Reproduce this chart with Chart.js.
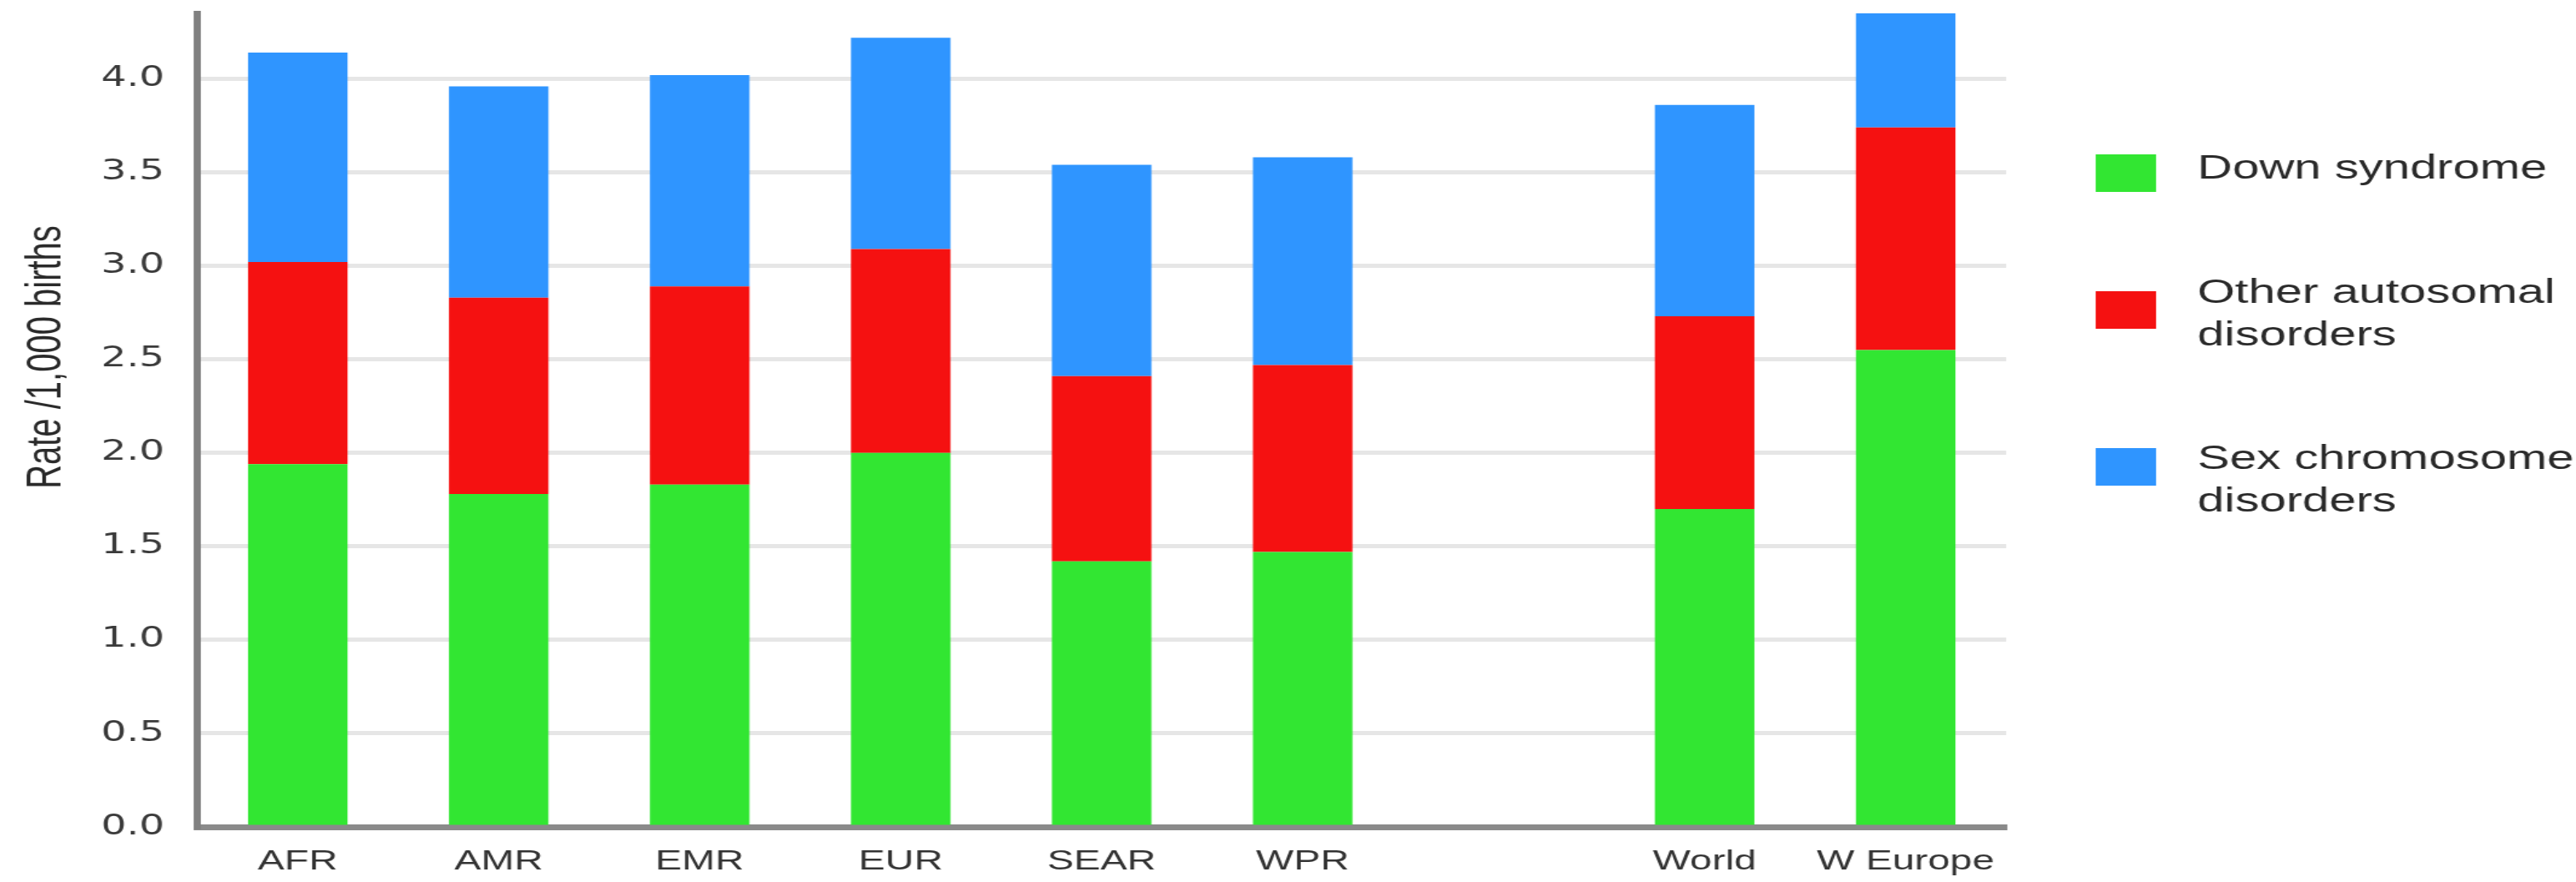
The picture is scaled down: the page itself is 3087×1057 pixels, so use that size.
<!DOCTYPE html>
<html>
<head>
<meta charset="utf-8">
<script src="https://cdn.jsdelivr.net/npm/chart.js@4"></script>
<style>
  html, body { margin: 0; padding: 0; background: #ffffff; overflow: hidden; }
  #c { display: block; width: 3087px !important; height: 1057px !important; }
</style>
</head>
<body>
<canvas id="c" width="2129" height="1057" style="width:3087px;height:1057px;"></canvas>
<script>
// ---- data ----
const categories = ['AFR', 'AMR', 'EMR', 'EUR', 'SEAR', 'WPR', '', 'World', 'W Europe'];
const downSyndrome   = [1.94, 1.78, 1.83, 2.00, 1.42, 1.47, null, 1.70, 2.55];
const otherAutosomal = [1.08, 1.05, 1.06, 1.09, 0.99, 1.00, null, 1.03, 1.19];
const sexChromosome  = [1.12, 1.13, 1.13, 1.13, 1.13, 1.11, null, 1.13, 1.13];
const seriesNames = ['Down syndrome', 'Other autosomal disorders', 'Sex chromosome disorders'];
const legendLines = [['Down syndrome'], ['Other autosomal', 'disorders'], ['Sex chromosome', 'disorders']];
const yAxisTitle = 'Rate /1,000 births';
const yMin = 0, yMax = 4.35, yStep = 0.5;

const colors = ['#32e632', '#f51111', '#2f95ff'];

const legendPlugin = {
  id: 'sideLegend',
  afterDraw(chart) {
    const ctx = chart.ctx;
    const boxX = 1732, boxW = 50, boxH = 45, textX = 1816, lineH = 51;
    const firstLineY = [203, 352, 551];
    const boxTop = [185, 349, 537];
    ctx.save();
    ctx.font = '40px "Liberation Sans", Arial, sans-serif';
    ctx.textBaseline = 'middle';
    ctx.textAlign = 'left';
    chart.data.datasets.forEach((ds, i) => {
      ctx.fillStyle = ds.backgroundColor;
      ctx.fillRect(boxX, boxTop[i], boxW, boxH);
      ctx.fillStyle = '#2a2a2a';
      legendLines[i].forEach((line, j) => {
        ctx.fillText(line, textX, firstLineY[i] + j * lineH);
      });
    });
    // y axis title
    ctx.translate(49.5, 428);
    ctx.rotate(-Math.PI / 2);
    ctx.font = '40px "Liberation Sans", Arial, sans-serif';
    ctx.textAlign = 'center';
    ctx.textBaseline = 'alphabetic';
    ctx.fillStyle = '#2a2a2a';
    ctx.fillText(yAxisTitle, 0, 0);
    ctx.restore();
  }
};

new Chart(document.getElementById('c'), {
  type: 'bar',
  data: {
    labels: categories,
    datasets: [
      { label: seriesNames[0], data: downSyndrome,   backgroundColor: colors[0] },
      { label: seriesNames[1], data: otherAutosomal, backgroundColor: colors[1] },
      { label: seriesNames[2], data: sexChromosome,  backgroundColor: colors[2] }
    ]
  },
  options: {
    responsive: false,
    animation: false,
    devicePixelRatio: 1,
    layout: { padding: { top: 16, right: 471, left: 0, bottom: 0 } },
    datasets: { bar: { categoryPercentage: 1.0, barPercentage: 0.495, borderWidth: 0 } },
    plugins: { legend: { display: false }, tooltip: { enabled: false } },
    scales: {
      x: {
        stacked: true,
        grid: { display: false, drawTicks: false },
        border: { display: true, color: '#8a8a8a', width: 7 },
        ticks: {
          color: '#333333',
          font: { family: '"Liberation Sans", Arial, sans-serif', size: 33 },
          padding: 22,
          maxRotation: 0,
          autoSkip: false
        },
        afterFit(scale) { scale.height = 66; scale.paddingLeft = 0; scale.paddingRight = 0; }
      },
      y: {
        stacked: true,
        min: yMin,
        max: yMax,
        grid: { color: '#e6e6e6', lineWidth: 5, drawTicks: false },
        border: { display: true, color: '#808080', width: 6 },
        ticks: {
          stepSize: yStep,
          color: '#3a3a3a',
          font: { family: '"DejaVu Sans", sans-serif', size: 33 },
          padding: 27,
          callback: (v) => (Math.abs(v / yStep - Math.round(v / yStep)) < 1e-6 ? Number(v).toFixed(1) : null)
        },
        afterFit(scale) { scale.width = 163; scale.paddingTop = 0; scale.paddingBottom = 0; }
      }
    }
  },
  plugins: [legendPlugin]
});
</script>
</body>
</html>
